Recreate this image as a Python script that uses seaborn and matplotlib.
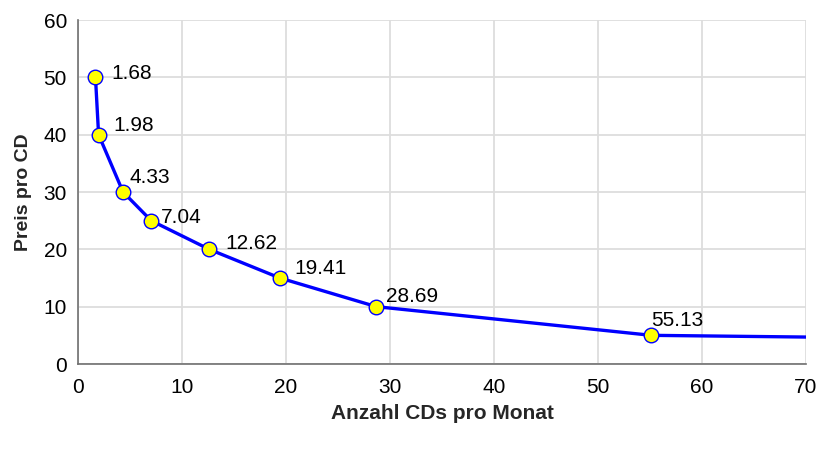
import pandas as pd
import numpy as np
import matplotlib
matplotlib.use("Agg")
import matplotlib.pyplot as plt
import seaborn as sns

# Preis pro CD vs. Anzahl CDs pro Monat
anzahl = [1.68, 1.98, 4.33, 7.04, 12.62, 19.41, 28.69, 55.13]
preis = [50, 40, 30, 25, 20, 15, 10, 5]
labels = ['1.68', '1.98', '4.33', '7.04', '12.62', '19.41', '28.69', '55.13']
# line runs on to the right edge without a marker
end_x = 70
end_y = 4.7

# label offsets in pixels (right, up)
offsets = [(16, 4), (15, 9), (6, 15), (10, 3), (16, 6), (15, 9), (10, 10), (0, 15)]

sns.set_style('white')
plt.rcParams['font.family'] = ['Liberation Sans', 'DejaVu Sans']

df = pd.DataFrame({'x': anzahl, 'y': preis})
line_df = pd.DataFrame({'x': anzahl + [end_x], 'y': preis + [end_y]})

fig = plt.figure(figsize=(8.27, 4.51), dpi=100)
ax = fig.add_axes([78/827, 1-364/451, (806-78)/827, (364-20)/451])

sns.lineplot(data=line_df, x='x', y='y', estimator=None, sort=False,
             color='#0000ff', linewidth=2.4, ax=ax, zorder=3)
sns.scatterplot(data=df, x='x', y='y', color='#ffff00', edgecolor='#0000ff',
                linewidth=1, s=110, ax=ax, zorder=4)

for xv, yv, lab, (dx, dy) in zip(anzahl, preis, labels, offsets):
    ax.annotate(lab, (xv, yv), xytext=(dx, dy), textcoords='offset pixels',
                ha='left', va='center', fontsize=15, color='black')

ax.set_xlim(0, 70)
ax.set_ylim(0, 60)
ax.set_xticks(np.arange(0, 71, 10))
ax.set_yticks(np.arange(0, 61, 10))
ax.grid(True, color='#dddddd', linewidth=1.3)
ax.set_axisbelow(True)

for s in ['top', 'right']:
    ax.spines[s].set_visible(False)
for s in ['left', 'bottom']:
    ax.spines[s].set_color('#707070')
    ax.spines[s].set_linewidth(1.2)

ax.tick_params(axis='both', direction='out', length=5, width=1, color='#707070',
               labelsize=15, labelcolor='black')
ax.tick_params(axis='x', pad=5)
ax.tick_params(axis='y', pad=3)

ax.set_xlabel('Anzahl CDs pro Monat', fontsize=15, fontweight='bold', labelpad=5)
ax.set_ylabel('Preis pro CD', fontsize=14, fontweight='bold', labelpad=8)

fig.savefig('out.png', dpi=100)
